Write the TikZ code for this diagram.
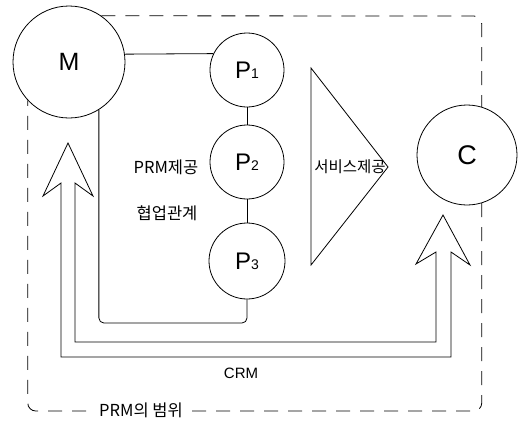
\documentclass[tikz,border=0pt]{standalone}
\usepackage{fontspec}
\setmainfont{Liberation Sans}
\newfontfamily\kr{Noto Sans CJK KR}
\newcommand\Psub[1]{{\fontsize{24}{24}\selectfont P}{\fontsize{14}{14}\selectfont #1}}
\begin{document}
\begin{tikzpicture}[x=1pt,y=-1pt,line width=0.8pt,
  circ/.style={draw,circle,inner sep=0pt},
  lbl/.style={inner sep=0pt,font=\kr\fontsize{16.5}{16.5}\selectfont},
  dsh/.style={dash pattern=on 14pt off 10pt}]
\useasboundingbox (0,0) rectangle (518,421);
% circles
\node[circ,minimum size=112pt,font=\fontsize{25}{25}\selectfont] (M) at (69,62) {M};
\node[circ,minimum size=74pt] (P1) at (247,70) {\Psub{1}};
\node[circ,minimum size=74pt] (P2) at (247,162) {\Psub{2}};
\node[circ,minimum size=76pt] (P3) at (247,261) {\Psub{3}};
\node[circ,minimum size=100pt,font=\fontsize{27}{27}\selectfont] (C) at (467,155) {C};
% connectors
\draw (M.8.2) -- (P1.154.4);
\draw (P1.south) -- (P2.north);
\draw (P2.south) -- (P3.north);
\draw[rounded corners=5pt] (M.-58) |- (P3.south |- 0,323) -- (P3.south);
% big CRM arrow
\draw[line join=miter] (43,196) -- (68,143) -- (93,196) -- (75,183) -- (75,342) -- (436,342)
  -- (436,252) -- (416,264) -- (443,215) -- (470,265) -- (451,252) -- (451,357)
  -- (61,357) -- (61,183) -- cycle;
% service triangle
\draw (311,68) -- (388,167) -- (311,265) -- cycle;
\node[lbl,font=\kr\fontsize{15.5}{15.5}\selectfont] (svc) at (350,167) {서비스제공};
% labels
\node[lbl] (prm) at (166,167) {PRM제공};
\node[lbl] (coop) at (167,213) {협업관계};
\node[inner sep=0pt,font=\fontsize{15}{15}\selectfont] (crm) at (241,373) {CRM};
% dashed scope
\draw[dsh,rounded corners=8pt] (M.55) -- (C.73 |- 0,16) -- (C.73);
\draw[dsh,rounded corners=8pt] (C.-73) -- (C.-73 |- 0,411) -- (M.-137 |- 0,411) -- (M.-137);
\node[lbl,fill=white,inner sep=4pt] (scope) at (141,410) {PRM의 범위};
\end{tikzpicture}
\end{document}
